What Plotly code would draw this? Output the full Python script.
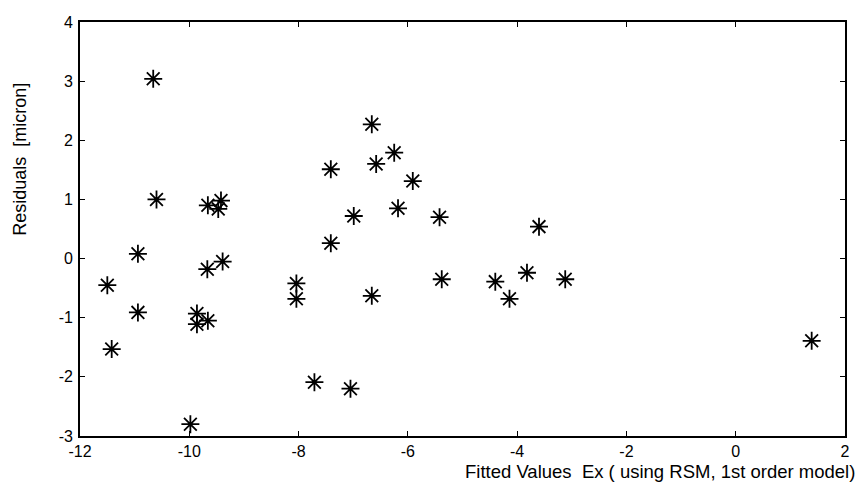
import plotly.graph_objects as go

fitted = [-10.66, -10.60, -9.66, -9.42, -9.47,
          -10.94, -11.50, -10.94, -11.42, -9.67, -9.39, -9.86, -9.86, -9.66, -9.98,
          -6.66, -6.25, -7.41, -6.58, -5.91, -6.99, -6.18, -5.42, -3.60, -7.41,
          -8.04, -8.04, -6.66, -5.38, -4.40, -3.82, -4.14, -3.12, -7.71, -7.05,
          1.39]
residuals = [3.04, 1.00, 0.90, 0.98, 0.84,
             0.08, -0.45, -0.91, -1.53, -0.18, -0.05, -0.93, -1.11, -1.05, -2.80,
             2.27, 1.79, 1.51, 1.60, 1.31, 0.72, 0.85, 0.70, 0.54, 0.26,
             -0.42, -0.68, -0.63, -0.35, -0.39, -0.24, -0.68, -0.35, -2.09, -2.20,
             -1.39]

x_ticks = [-12, -10, -8, -6, -4, -2, 0, 2]
y_ticks = [-3, -2, -1, 0, 1, 2, 3, 4]

fig = go.Figure()
fig.add_trace(go.Scatter(
    x=fitted, y=residuals, mode="markers",
    marker=dict(symbol="asterisk-open", size=15, color="black",
                line=dict(color="black", width=1.8)),
    showlegend=False, hoverinfo="skip"))

axis_common = dict(showgrid=False, zeroline=False, showline=True, linecolor="black",
                   linewidth=1.6, mirror="ticks", ticks="inside", ticklen=5,
                   tickwidth=1.3, tickcolor="black",
                   tickfont=dict(family="Liberation Sans, Arial", size=16, color="black"))

fig.update_xaxes(range=[-12, 2], tickvals=x_ticks, ticktext=[str(v) for v in x_ticks],
                 **axis_common)
fig.update_yaxes(range=[-3, 4], tickvals=y_ticks, ticktext=[str(v) for v in y_ticks],
                 ticklabelstandoff=2, **axis_common)

fig.add_annotation(text="Fitted Values  Ex ( using RSM, 1st order model)",
                   xref="paper", yref="paper", x=1, y=0, xanchor="right", yanchor="top",
                   yshift=-23, xshift=12, showarrow=False,
                   font=dict(family="Liberation Sans, Arial", size=18.5, color="black"))
fig.add_annotation(text="Residuals  [micron]",
                   xref="paper", yref="paper", x=0, y=0.667, xanchor="center", yanchor="middle",
                   xshift=-60, textangle=-90, showarrow=False,
                   font=dict(family="Liberation Sans, Arial", size=18, color="black"))

fig.update_layout(width=862, height=488, margin=dict(l=80, r=17, t=22, b=52),
                  plot_bgcolor="white", paper_bgcolor="white")

fig.write_html("out.html")
